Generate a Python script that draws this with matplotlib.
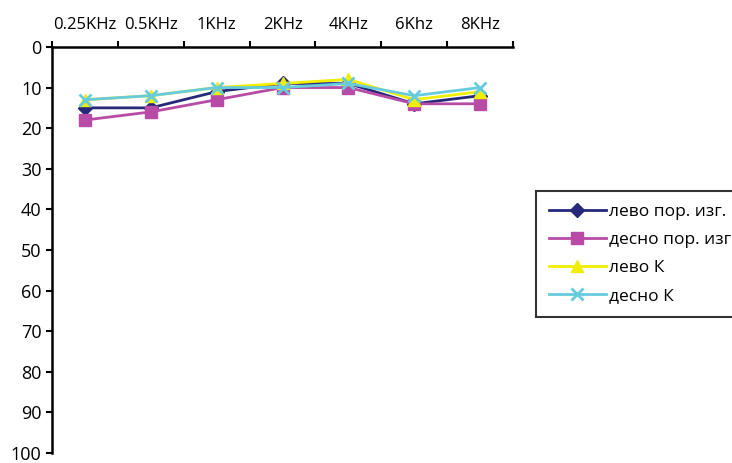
import numpy as np
import matplotlib
matplotlib.use("Agg")
import matplotlib.pyplot as plt

plt.rcParams["font.family"] = ["Open Sans", "DejaVu Sans"]

# audiogram data
freqs = ["0.25KHz", "0.5KHz", "1KHz", "2KHz", "4KHz", "6Khz", "8KHz"]
levo_por = [15, 15, 11, 9, 9, 14, 12]
desno_por = [18, 16, 13, 10, 10, 14, 14]
levo_k = [13, 12, 10, 9, 8, 13, 11]
desno_k = [13, 12, 10, 10, 9, 12, 10]

series = [
    ("лево пор. изг.", levo_por, "#26287A", "D", 7),
    ("десно пор. изг.", desno_por, "#B84BA6", "s", 8),
    ("лево К", levo_k, "#F2EE00", "^", 9),
    ("десно К", desno_k, "#66CCDD", "x", 9),
]

fig = plt.figure(figsize=(7.32, 4.63), dpi=100)
ax = fig.add_axes([0.071, 0.0216, 0.630, 0.877])

x = np.arange(len(freqs)) + 0.5
for name, vals, color, marker, ms in series:
    ax.plot(x, vals, color=color, marker=marker, markersize=ms, linewidth=2,
            markeredgewidth=2 if marker == "x" else 1, label=name,
            clip_on=False)

ax.set_xlim(0, len(freqs))
ax.set_ylim(100, 0)
ax.xaxis.tick_top()
ax.set_xticks(np.arange(len(freqs) + 1))
ax.set_xticklabels([])
ax.set_xticks(x, minor=True)
ax.set_xticklabels(freqs, minor=True, fontsize=12)
ax.tick_params(axis="x", which="minor", length=0, pad=10)
ax.tick_params(axis="x", which="major", direction="out", length=4, width=1.5)
ax.set_yticks(np.arange(0, 101, 10))
ax.tick_params(axis="y", direction="out", length=4, width=1.5, labelsize=13)

for s in ["right", "bottom"]:
    ax.spines[s].set_visible(False)
ax.spines["left"].set_linewidth(1.8)
ax.spines["top"].set_linewidth(1.8)

leg = fig.legend(loc="upper left", bbox_to_anchor=(0.732, 0.588), frameon=True,
                 fancybox=False, edgecolor="black", fontsize=12.5,
                 handlelength=3.3, handletextpad=0.15, borderpad=0.75,
                 borderaxespad=0, labelspacing=0.68)
leg.get_frame().set_linewidth(1.5)

fig.savefig("out.png", dpi=100)
